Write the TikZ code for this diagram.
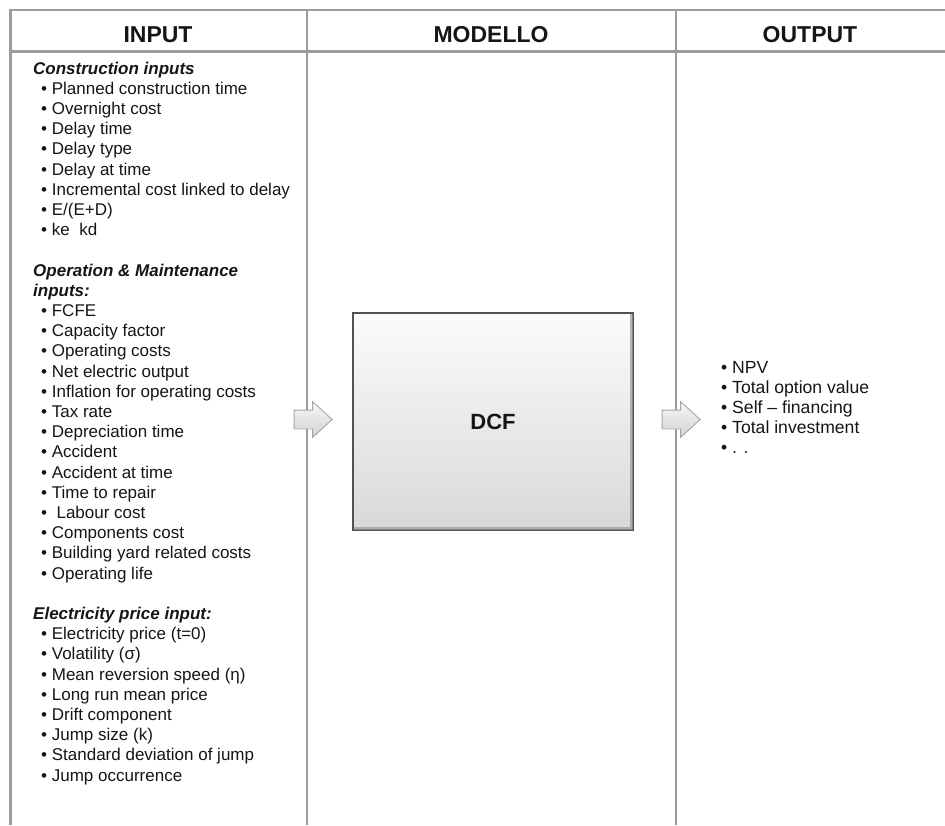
\documentclass[tikz,border=0pt]{standalone}
\usepackage{fontspec}
\setmainfont{Liberation Sans}
\usetikzlibrary{shapes.arrows}
\definecolor{txt}{HTML}{151515}
\definecolor{rulec}{HTML}{9C9C9C}
\begin{document}
\begin{tikzpicture}[x=1pt,y=-1pt,
  hdr/.style={font=\fontsize{23}{26}\selectfont\bfseries, text=txt, anchor=base, inner sep=0pt},
  item/.style={font=\fontsize{17}{20}\selectfont, text=txt, anchor=base west, inner sep=0pt},
  outitem/.style={item, font=\fontsize{17.6}{20}\selectfont},
  heading/.style={font=\fontsize{17}{20}\selectfont\bfseries\itshape, text=txt, anchor=base west, inner sep=0pt},
  gridline/.style={draw=rulec, line width=2.5pt},
  dcfbox/.style={draw=black!68, line width=2pt, top color=gray!3, bottom color=gray!30,
    minimum width=280pt, minimum height=217pt, inner sep=0pt,
    font=\fontsize{22}{24}\selectfont\bfseries, text=txt},
  bevel/.style={draw=black!40, line width=2.5pt, opacity=0.7},
  blockarrow/.style={single arrow, draw=gray!70, line width=0.9pt, top color=gray!6, bottom color=gray!35,
    minimum height=38pt, single arrow head extend=8.5pt, single arrow tip angle=85,
    inner xsep=0pt, inner ysep=9pt}]
\useasboundingbox (0,0) rectangle (945,825);
% table grid
\draw[gridline] (9,10) -- (945,10);
\draw[gridline] (9,51.5) -- (945,51.5);
\draw[gridline] (10.5,10) -- (10.5,825);
\draw[gridline] (307,10) -- (307,825);
\draw[gridline] (676,10) -- (676,825);
% headers
\node[hdr] (hIn)  at (158,42) {INPUT};
\node[hdr] (hMod) at (491,42) {MODELLO};
\node[hdr] (hOut) at (810,42) {OUTPUT};
% input column
\node[heading] (hCons) at (33,74) {Construction inputs};
\foreach \k/\t in {1/{Planned construction time},2/{Overnight cost},3/{Delay time},4/{Delay type},
  5/{Delay at time},6/{Incremental cost linked to delay},7/{E/(E+D)},8/{ke\ \ kd}}
  \node[item] (c\k) at (41,74+20.2*\k) {• \t};
\node[heading] (hOp1) at (33,74+20.2*10) {Operation \& Maintenance};
\node[heading] (hOp2) at (33,74+20.2*11) {inputs:};
\foreach \k/\t in {12/{FCFE},13/{Capacity factor},14/{Operating costs},15/{Net electric output},
  16/{Inflation for operating costs},17/{Tax rate},18/{Depreciation time},19/{Accident},
  20/{Accident at time},21/{Time to repair},22/{\ Labour cost},23/{Components cost},
  24/{Building yard related costs},25/{Operating life}}
  \node[item] (o\k) at (41,74+20.2*\k) {• \t};
\node[heading] (hEl) at (33,74+20.2*27) {Electricity price input:};
\foreach \k/\t in {28/{Electricity price (t=0)},29/{Volatility (σ)},30/{Mean reversion speed (η)},
  31/{Long run mean price},32/{Drift component},33/{Jump size (k)},
  34/{Standard deviation of jump},35/{Jump occurrence}}
  \node[item] (e\k) at (41,74+20.2*\k) {• \t};
% model
\node[dcfbox] (dcf) at (493,421.5) {DCF};
\draw[bevel] ([xshift=-2.5pt,yshift=-2pt]dcf.north east) -- ([xshift=-2.5pt,yshift=2.5pt]dcf.south east)
  -- ([xshift=2pt,yshift=2.5pt]dcf.south west);
\node[blockarrow] (arrIn) at (308,419.5) {};
\node[blockarrow] (arrOut) at (676,419.5) {};
% output column
\foreach \k/\t in {0/{NPV},1/{Total option value},2/{Self – financing},3/{Total investment},4/{. .}}
  \node[outitem] (out\k) at (721,373+20*\k) {• \t};
\end{tikzpicture}
\end{document}
